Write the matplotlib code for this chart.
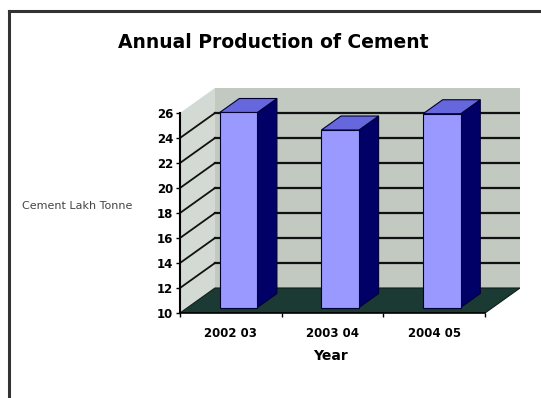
import matplotlib.pyplot as plt
from matplotlib.patches import Polygon
from matplotlib.lines import Line2D

# data
years = ['2002 03', '2003 04', '2004 05']
production = [25.6, 24.2, 25.5]
y_ticks = [10, 12, 14, 16, 18, 20, 22, 24, 26]

# fake 3d: depth shift of the walls, in data units
dx, dy = 0.344, 2.0
ymin, ymax = 10, 26
bar_w = 0.37
d0, d1 = 0.22, 0.78   # bar front / back as fraction of depth

fig = plt.figure(figsize=(5.41, 3.98), dpi=100)
ax = fig.add_axes([180/541, 1 - 313/398, 340/541, 225/398])
n = len(years)
ax.set_xlim(0, n + dx)
ax.set_ylim(ymin, ymax + dy)

# side wall, back wall, floor
ax.add_patch(Polygon([(0, ymin), (dx, ymin + dy), (dx, ymax + dy), (0, ymax)],
                     closed=True, fc='#d3d9d3', ec='none', zorder=1))
ax.add_patch(Polygon([(dx, ymin + dy), (n + dx, ymin + dy), (n + dx, ymax + dy), (dx, ymax + dy)],
                     closed=True, fc='#c1c9c1', ec='none', zorder=1))
ax.add_patch(Polygon([(0, ymin), (n, ymin), (n + dx, ymin + dy), (dx, ymin + dy)],
                     closed=True, fc='#1c3a34', ec='#0d1f1b', lw=0.8, zorder=2))

# gridlines: diagonal on side wall + horizontal on back wall
for v in y_ticks[1:-1]:
    ax.plot([0, dx], [v, v + dy], color='#111111', lw=1.3, zorder=2)
    ax.plot([dx, n + dx], [v + dy, v + dy], color='#111111', lw=1.6, zorder=2)

# columns
for i, val in enumerate(production):
    x0 = i + 0.5 - bar_w / 2 + d0 * dx
    x1 = x0 + bar_w
    b0 = ymin + d0 * dy
    t0 = val + d0 * dy
    sx = (d1 - d0) * dx
    sy = (d1 - d0) * dy
    front = [(x0, b0), (x1, b0), (x1, t0), (x0, t0)]
    side = [(x1, b0), (x1 + sx, b0 + sy), (x1 + sx, t0 + sy), (x1, t0)]
    top = [(x0, t0), (x1, t0), (x1 + sx, t0 + sy), (x0 + sx, t0 + sy)]
    ax.add_patch(Polygon(side, closed=True, fc='#000066', ec='#000033', lw=0.8, zorder=3))
    ax.add_patch(Polygon(top, closed=True, fc='#6666dd', ec='#000033', lw=0.8, zorder=3))
    ax.add_patch(Polygon(front, closed=True, fc='#9999ff', ec='#000033', lw=0.8, zorder=4))

# axes styling
for s in ['top', 'right']:
    ax.spines[s].set_visible(False)
ax.spines['left'].set_bounds(ymin, ymax)
ax.spines['bottom'].set_bounds(0, n)
ax.spines['left'].set_linewidth(1.5)
ax.spines['bottom'].set_linewidth(1.2)
ax.set_yticks(y_ticks)
ax.set_yticklabels([str(t) for t in y_ticks], fontsize=8.5, fontweight='bold')
ax.tick_params(axis='y', length=3, width=1, pad=2)
ax.set_xticks([i + 0.5 for i in range(n)])
ax.set_xticklabels(years, fontsize=8.5, fontweight='bold')
ax.set_xticks(range(n + 1), minor=True)
ax.tick_params(axis='x', which='major', length=0, pad=10)
ax.tick_params(axis='x', which='minor', length=3, width=1)
ax.patch.set_visible(False)

fig.text(273/541, 1 - 43/398, 'Annual Production of Cement', ha='center', va='center',
         fontsize=13.5, fontweight='bold')
fig.text(330/541, 1 - 356/398, 'Year', ha='center', va='center', fontsize=10, fontweight='bold')
fig.text(77/541, 1 - 206/398, 'Cement Lakh Tonne', ha='center', va='center',
         fontsize=8, color='#444444')

# outer frame (top and left edges)
fig.add_artist(Line2D([9/541, 1], [1 - 11/398, 1 - 11/398], color='#333333', lw=2.2))
fig.add_artist(Line2D([9/541, 9/541], [0, 1 - 11/398], color='#333333', lw=2.2))

fig.savefig('out.png', dpi=100)
